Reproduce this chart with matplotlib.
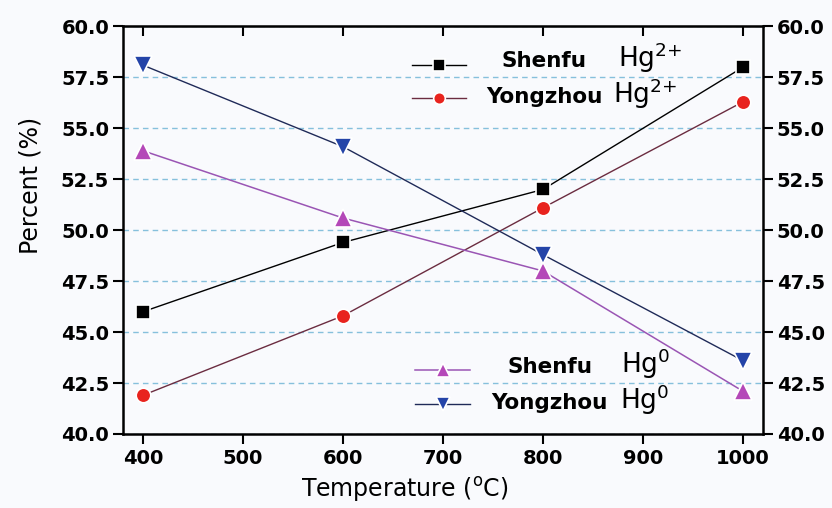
# librarias
import matplotlib.pyplot as plt

plt.rcParams['font.family'] = 'DejaVu Sans'
plt.rcParams['mathtext.default'] = 'regular'

# dados: temperatura e percentagem de cada especie de Hg
temperatura = [400, 600, 800, 1000]
shenfu_hg2 = [46.0, 49.4, 52.0, 58.0]
yongzhou_hg2 = [41.9, 45.8, 51.1, 56.3]
shenfu_hg0 = [53.9, 50.6, 48.0, 42.1]
yongzhou_hg0 = [58.1, 54.1, 48.8, 43.6]

x_ticks = [400, 500, 600, 700, 800, 900, 1000]
y_ticks = [40.0, 42.5, 45.0, 47.5, 50.0, 52.5, 55.0, 57.5, 60.0]

fundo = '#f9fafd'
fig = plt.figure(figsize=(8.32, 5.08), dpi=100, facecolor=fundo)
ax = fig.add_axes([0.1478, 0.1457, 0.7692, 0.8022])
ax.set_facecolor(fundo)

# linhas de grelha tracejadas azuis
ax.yaxis.grid(True, linestyle=(0, (4, 3)), color='#86c0dc', linewidth=1.0)
ax.set_axisbelow(True)

# cada serie com o seu marcador
l1, = ax.plot(temperatura, shenfu_hg2, color='black', lw=1.0, marker='s', ms=10,
              mfc='black', mec='white', mew=1.2, zorder=3)
l2, = ax.plot(temperatura, yongzhou_hg2, color='#6b2c40', lw=1.0, marker='o', ms=10.5,
              mfc='#e8231e', mec='white', mew=1.2, zorder=3)
l3, = ax.plot(temperatura, shenfu_hg0, color='#9a55b4', lw=1.1, marker='^', ms=13,
              mfc='#b448b8', mec='white', mew=1.2, zorder=3)
l4, = ax.plot(temperatura, yongzhou_hg0, color='#1f2a58', lw=1.0, marker='v', ms=13,
              mfc='#2444a8', mec='white', mew=1.2, zorder=4)

ax.set_xlim(380, 1020)
ax.set_ylim(40, 60)
ax.set_xticks(x_ticks)
ax.set_yticks(y_ticks)
ax.set_yticklabels(['%.1f' % v for v in y_ticks])

for s in ax.spines.values():
    s.set_linewidth(1.8)
    s.set_color('black')

ax.tick_params(axis='x', direction='out', length=7, width=1.5, labelsize=14, pad=4)
ax.tick_params(axis='y', direction='out', length=7, width=1.5, labelsize=14, pad=3,
               right=True, labelright=True)
for t in ax.get_xticklabels() + ax.get_yticklabels():
    t.set_fontweight('bold')

# ticks para dentro no topo
topo = ax.secondary_xaxis('top')
topo.set_xticks(x_ticks)
topo.tick_params(direction='in', length=7, width=1.5, labeltop=False)

# titulos dos eixos
ax.set_xlabel('Temperature ($^{o}$C)', fontsize=17)
ax.xaxis.set_label_coords(0.44, -0.137)
ax.xaxis.label.set_va('center')
ax.set_ylabel('Percent (%)', fontsize=17)
ax.yaxis.set_label_coords(-0.145, 0.61)
ax.yaxis.label.set_va('center')

# legendas (so os simbolos), os nomes vao em texto
leg1 = ax.legend(handles=[l1, l2], labels=['', ''], loc='upper left',
                 bbox_to_anchor=(0.452, 0.928), frameon=False, fontsize=15,
                 handlelength=2.6, labelspacing=0.65, borderpad=0, borderaxespad=0,
                 handletextpad=0, markerscale=0.8)
ax.add_artist(leg1)
ax.legend(handles=[l3, l4], labels=['', ''], loc='upper left',
          bbox_to_anchor=(0.457, 0.178), frameon=False, fontsize=15,
          handlelength=2.6, labelspacing=0.65, borderpad=0, borderaxespad=0,
          handletextpad=0, markerscale=0.8)

nomes = [('Shenfu', 'Hg$^{2{+}}$', 0.658, 0.773, 0.900),
         ('Yongzhou', 'Hg$^{2{+}}$', 0.658, 0.766, 0.813),
         ('Shenfu', 'Hg$^{0}$', 0.667, 0.778, 0.150),
         ('Yongzhou', 'Hg$^{0}$', 0.667, 0.777, 0.061)]
for nome, hg, xn, xh, yb in nomes:
    ax.text(xn, yb, nome, transform=ax.transAxes, ha='center', va='baseline',
            fontsize=15.5, fontweight='bold')
    ax.text(xh, yb, hg, transform=ax.transAxes, ha='left', va='baseline',
            fontsize=19)

fig.savefig('out.png', dpi=100, facecolor=fundo)
